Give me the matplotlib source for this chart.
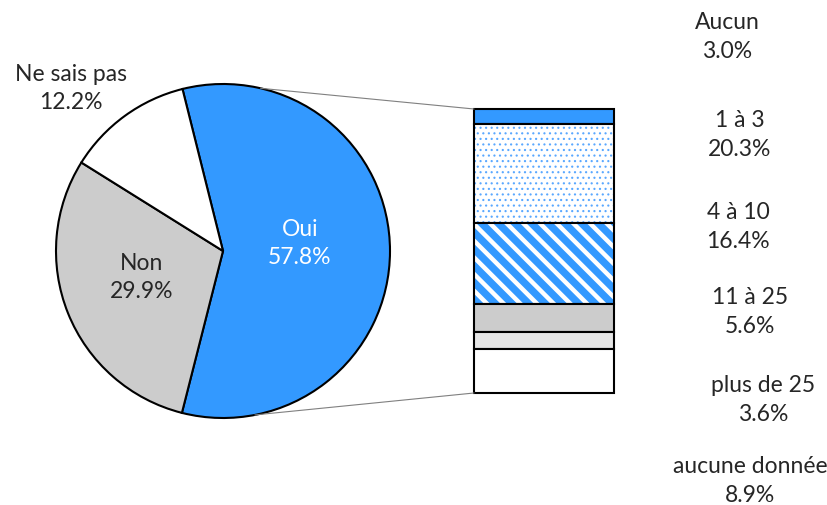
import numpy as np
import matplotlib.pyplot as plt
from matplotlib.patches import ConnectionPatch

plt.rcParams['font.family'] = ['Lato', 'DejaVu Sans']
plt.rcParams['font.size'] = 16.5

# --- donnees ---
pie_labels = ['Oui', 'Non', 'Ne sais pas']
pie_values = [57.8, 29.9, 12.2]
pie_colors = ['#3399FF', '#CCCCCC', '#FFFFFF']

# detail de "Oui", du haut vers le bas
bar_labels = ['Aucun', '1 à 3', '4 à 10', '11 à 25', 'plus de 25', 'aucune donnée']
bar_values = [3.0, 20.3, 16.4, 5.6, 3.6, 8.9]

TXT = '#262626'
BLUE = '#3399FF'
LSP = 1.42

fig = plt.figure(figsize=(8.27, 5.05), dpi=100)

# --- camembert ---
ax_pie = fig.add_axes([56 / 827, 1 - 418 / 505, 334 / 827, 334 / 505])
start = pie_values[0] / 100 * 180
wedges, _ = ax_pie.pie(pie_values, colors=pie_colors, startangle=start,
                       counterclock=False, radius=1,
                       wedgeprops=dict(edgecolor='black', linewidth=1.5))
ax_pie.set_xlim(-1, 1)
ax_pie.set_ylim(-1, 1)
ax_pie.set_aspect('equal')
ax_pie.axis('off')

ax_pie.text(0.46, 0.045, f'{pie_labels[0]}\n{pie_values[0]:.1f}%', color='white',
            ha='center', va='center', linespacing=LSP)
ax_pie.text(-0.485, -0.16, f'{pie_labels[1]}\n{pie_values[1]:.1f}%', color=TXT,
            ha='center', va='center', linespacing=LSP)
ax_pie.text(-0.91, 0.975, f'{pie_labels[2]}\n{pie_values[2]:.1f}%', color=TXT,
            ha='center', va='center', linespacing=LSP)

# --- barre empilee ---
ax_bar = fig.add_axes([474 / 827, 1 - 393 / 505, 140 / 827, 284 / 505])
total = sum(bar_values)
ax_bar.set_xlim(-0.5, 0.5)
ax_bar.set_ylim(0, total)
ax_bar.axis('off')

fills = [
    dict(color=BLUE),
    dict(facecolor='white', edgecolor='#5AA8FF', hatch='...', hlw=0.8),
    dict(facecolor=BLUE, edgecolor='white', hatch='\\\\', hlw=3.2),
    dict(color='#CCCCCC'),
    dict(color='#E6E6E6'),
    dict(color='white'),
]

top = total
for val, f in zip(bar_values, fills):
    bottom = top - val
    f = dict(f)
    hlw = f.pop('hlw', None)
    if hlw is not None:
        plt.rcParams['hatch.linewidth'] = hlw
    b = ax_bar.bar(0, val, bottom=bottom, width=1, linewidth=0, clip_on=False, **f)[0]
    if hlw is not None and hasattr(b, 'set_hatch_linewidth'):
        b.set_hatch_linewidth(hlw)
    # contour noir par-dessus
    ax_bar.bar(0, val, bottom=bottom, width=1, fill=False, edgecolor='black',
               linewidth=1.5, clip_on=False)
    top = bottom

# --- lignes de liaison ---
for ang, yb in [(77, total), (-79, 0)]:
    a = np.deg2rad(ang)
    con = ConnectionPatch(xyA=(np.cos(a), np.sin(a)), coordsA=ax_pie.transData,
                          xyB=(-0.5, yb), coordsB=ax_bar.transData,
                          color='#808080', linewidth=0.8)
    fig.add_artist(con)

# --- etiquettes de la barre ---
label_pos = [(727, 37), (740, 135), (738, 227), (750, 312), (763, 400), (750, 481)]
for lab, val, (px, py) in zip(bar_labels, bar_values, label_pos):
    fig.text(px / 827, 1 - py / 505, f'{lab}\n{val:.1f}%', color=TXT,
             ha='center', va='center', linespacing=LSP)

fig.savefig('out.png', dpi=100)
